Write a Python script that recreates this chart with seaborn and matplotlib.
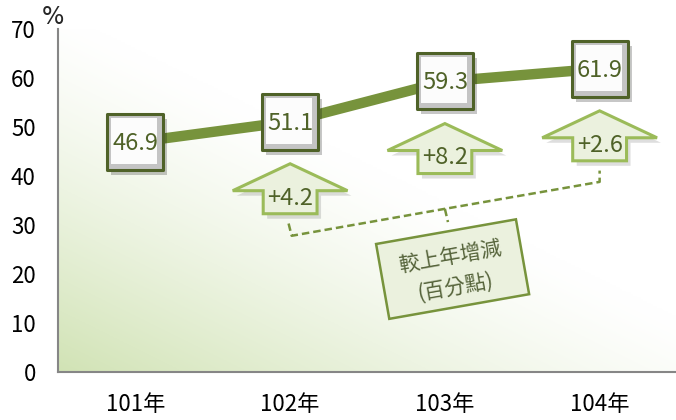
import matplotlib
matplotlib.use("Agg")
import matplotlib.pyplot as plt
import matplotlib.transforms as mtransforms
from matplotlib.patches import Polygon, Rectangle
import numpy as np
import pandas as pd
import seaborn as sns

years = ["101年", "102年", "103年", "104年"]
rates = [46.9, 51.1, 59.3, 61.9]
changes = ["+4.2", "+8.2", "+2.6"]
y_ticks = [0, 10, 20, 30, 40, 50, 60, 70]
note_text = "較上年增減\n(百分點)"

GREEN = "#77933C"
DARK = "#4F6228"
LIGHT = "#EBF1DE"
ARROW_EDGE = "#9BBB59"
AXIS = "#868686"

sns.set_theme(style="white")
plt.rcParams["font.family"] = ["Noto Sans CJK TC", "DejaVu Sans"]

fig = plt.figure(figsize=(6.76, 4.2), dpi=100)
ax = fig.add_axes([58 / 676, 48 / 420, 619 / 676, 343 / 420])

# background: light green in the lower left fading to white
gx, gy = np.meshgrid(np.linspace(0, 1, 300), np.linspace(0, 1, 200))
g = np.clip(1 - (gx * 0.85 + gy * 0.95), 0, 1) ** 1.3
c0 = np.array([1.0, 1.0, 1.0])
c1 = np.array([0.82, 0.89, 0.71])
img = c0[None, None, :] * (1 - g[..., None]) + c1[None, None, :] * g[..., None]
ax.imshow(img, extent=[0, 1, 0, 1], transform=ax.transAxes, origin="lower",
          aspect="auto", zorder=0)

df = pd.DataFrame({"year": years, "rate": rates})
sns.lineplot(data=df, x="year", y="rate", color=GREEN, lw=7.5, sort=False,
             ax=ax, zorder=3, solid_capstyle="butt")

pos = np.arange(len(years))
px = 72 / fig.dpi  # points per pixel

# value boxes with a drop shadow and a simple bevel
shadow = mtransforms.offset_copy(ax.transData, fig=fig, x=4 * px, y=-5 * px, units="points")
ax.scatter(pos, rates, marker="s", s=(56 * px) ** 2, color="#000000", alpha=0.22,
           lw=0, transform=shadow, zorder=4)
sns.scatterplot(data=df, x="year", y="rate", marker="s", s=(56 * px) ** 2,
                color="#C4C4C4", edgecolor=DARK, linewidth=2.2, ax=ax, zorder=5)
inner = mtransforms.offset_copy(ax.transData, fig=fig, x=-1 * px, y=1 * px, units="points")
ax.scatter(pos, rates, marker="s", s=(47 * px) ** 2, color="#FCFCFC", lw=0,
           transform=inner, zorder=5.5)
for i, v in enumerate(rates):
    ax.text(i, v - 0.3, f"{v:.1f}", ha="center", va="center", fontsize=17,
            color=DARK, zorder=6)

# up arrows with the yearly change
arrow_shadow = mtransforms.offset_copy(ax.transData, fig=fig, x=4 * px, y=-5 * px, units="points")
bottoms = []
for i, label in enumerate(changes, start=1):
    tip = rates[i] - 8.6
    base = tip - 5.5
    bottom = tip - 10.2
    bottoms.append(bottom)
    hw, sw = 0.371, 0.174
    pts = [(i, tip), (i + hw, base), (i + sw, base), (i + sw, bottom),
           (i - sw, bottom), (i - sw, base), (i - hw, base)]
    ax.add_patch(Polygon(pts, closed=True, fc="#000000", alpha=0.13, lw=0,
                         transform=arrow_shadow, zorder=3.5))
    ax.add_patch(Polygon(pts, closed=True, fc=LIGHT, ec=ARROW_EDGE, lw=2.2, zorder=4))
    ax.text(i, tip - 7.0, label, ha="center", va="center", fontsize=17,
            color=DARK, zorder=6)

# dashed bracket joining the arrows to the note
bx = [1 - 0.01, 1 + 0.01, 2.0, 3.0, 3.0]
by = [bottoms[0] - 2, 27.8, 33.3, 38.8, bottoms[2] - 2]
ax.plot(bx, by, color=GREEN, lw=1.8, ls=(0, (3, 1.6)), zorder=4)
ax.plot([2.0, 2.02], [33.3, 30.6], color=GREEN, lw=1.8, ls=(0, (3, 1.6)), zorder=4)

# rotated note box
cx, cy = 2.05, 21.0
box_tr = mtransforms.Affine2D().rotate_deg(10) + mtransforms.ScaledTranslation(cx, cy, ax.transData)
ax.add_patch(Rectangle((-71, -38), 142, 76, fc=LIGHT, ec=GREEN, lw=1.8,
                       transform=box_tr, zorder=4))
ax.text(cx, cy - 0.6, note_text, ha="center", va="center", rotation=10,
        rotation_mode="anchor", fontsize=15, color="#55633A", linespacing=1.5,
        zorder=5)

ax.set_xlim(-0.5, 3.5)
ax.set_ylim(0, 70)
ax.set_yticks(y_ticks)
ax.set_xticks(pos)
ax.set_xticklabels(years)
ax.set_xticks(np.arange(-0.5, 4, 1), minor=True)
ax.set_xlabel("")
ax.set_ylabel("")
ax.tick_params(axis="x", which="major", length=0, labelsize=16, pad=15, colors="black")
ax.tick_params(axis="x", which="minor", length=6, width=1.3, color=AXIS, direction="out")
ax.tick_params(axis="y", length=6, width=1.3, color=AXIS, direction="out",
               labelsize=16, pad=10, labelcolor="black")
for side in ["top", "right"]:
    ax.spines[side].set_visible(False)
for side in ["left", "bottom"]:
    ax.spines[side].set_color(AXIS)
    ax.spines[side].set_linewidth(1.5)

ax.annotate("%", xy=(0, 1), xycoords="axes fraction", xytext=(-4, 9),
            textcoords="offset points", ha="center", va="center", fontsize=17,
            family=["DejaVu Sans"])

fig.savefig("out.png", dpi=100)
plt.close(fig)
